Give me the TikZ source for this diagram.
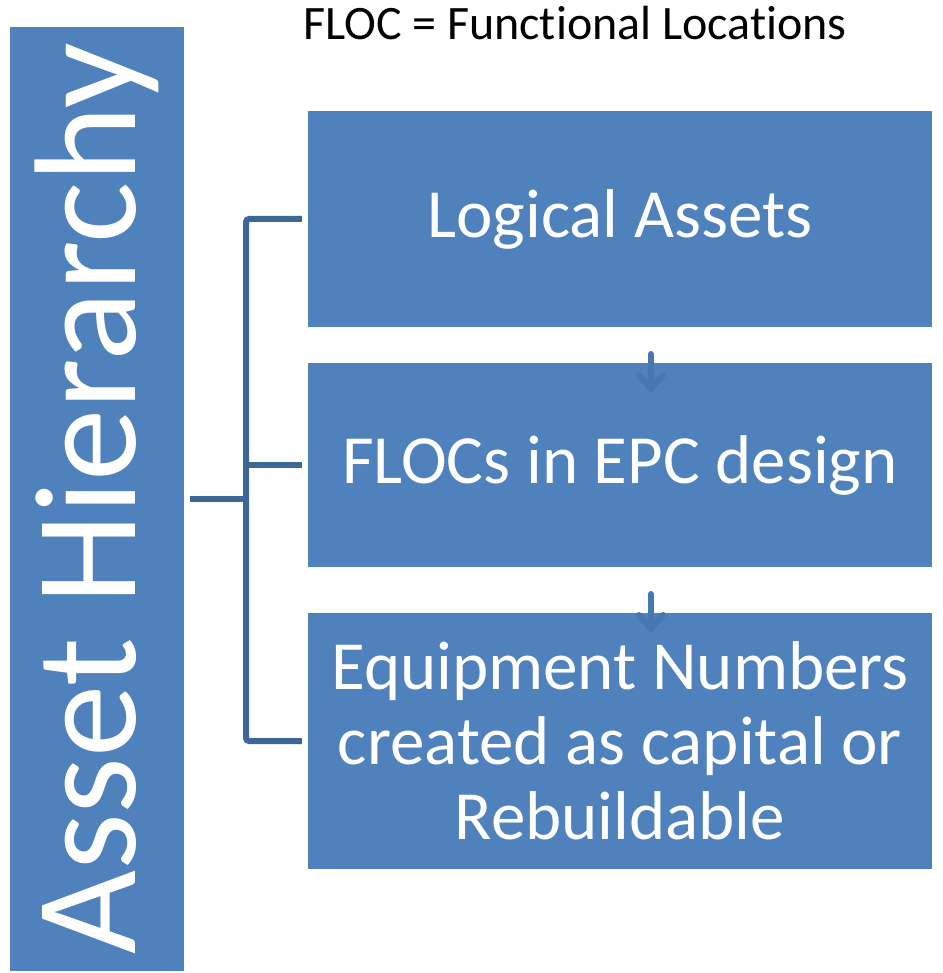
\documentclass[tikz,border=0pt]{standalone}
\usepackage{fontspec}
\setmainfont[Ligatures=NoCommon]{Carlito}
\usetikzlibrary{arrows.meta}
\definecolor{boxblue}{HTML}{4F81BD}
\definecolor{connblue}{HTML}{3D6797}
\definecolor{arrblue}{HTML}{4677B0}
\begin{document}
\begin{tikzpicture}[x=1pt,y=-1pt,
  box/.style={fill=boxblue, inner sep=0pt, text=white, align=center,
    font=\fontsize{69}{75}\selectfont},
  conn/.style={draw=connblue, line width=6pt},
  arr/.style={draw=arrblue, line width=6pt, line cap=round,
    -{Straight Barb[length=14pt, width=24pt, line cap=round, line join=round]}}]
\useasboundingbox (0,0) rectangle (942,973);
\fill[white] (0,0) rectangle (942,973);
\node[fill=boxblue, inner sep=0pt, text=white, rotate=90,
  minimum width=944pt, minimum height=174pt,
  font=\fontsize{145}{150}\selectfont] (ah) at (97,499) {Asset Hierarchy};
\node[font=\fontsize{48}{52}\selectfont, anchor=center] (title) at (575,23) {FLOC = Functional Locations};
\node[box, minimum width=624pt, minimum height=216pt] (b1) at (620,219) {Logical Assets};
\node[box, minimum width=624pt, minimum height=204pt] (b2) at (620,465) {FLOCs in EPC design};
\node[box, minimum width=624pt, minimum height=256pt] (b3) at (620,741) {Equipment Numbers\\created as capital or\\Rebuildable};
\coordinate (j) at (246,499);
\draw[conn, shorten <=6pt] (ah.south) -- (j);
\draw[conn, rounded corners=3pt, shorten <=6pt, shorten >=6pt] (b1.west) -| (j) |- (b3.west);
\draw[conn, shorten >=6pt] (j) |- (b2.west);
\coordinate (a1s) at (651,354);
\coordinate (a1e) at (651,392);
\coordinate (a2s) at (651,594);
\coordinate (a2e) at (651,632);
\draw[arr] (a1s) -- (a1e);
\draw[arr] (a2s) -- (a2e);
\end{tikzpicture}
\end{document}
